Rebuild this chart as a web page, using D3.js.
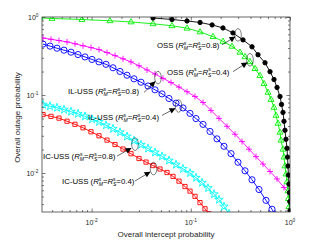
<!DOCTYPE html>
<html>
<head>
<meta charset="utf-8">
<script src="https://cdn.jsdelivr.net/npm/d3@7"></script>
<style>
  body { margin: 0; background: #fff; }
  text { font-family: "Liberation Sans", Arial, Helvetica, sans-serif; }
</style>
</head>
<body>
<script>
// OSS, R = 0.8 (black)
const ossHighX = [0.0416, 0.0646, 0.0916, 0.124, 0.164, 0.211, 0.266, 0.336, 0.414, 0.476, 0.560, 0.629, 0.690, 0.740,
  0.793, 0.821, 0.850, 0.870, 0.890, 0.911, 0.933, 0.944, 0.954, 0.965, 0.977, 0.988, 0.995, 1.0];
const ossHighY = [0.971, 0.929, 0.889, 0.851, 0.791, 0.724, 0.625, 0.509, 0.415, 0.328, 0.259, 0.199, 0.158, 0.125,
  0.0957, 0.0757, 0.0598, 0.0460, 0.0353, 0.0271, 0.0208, 0.0160, 0.0123, 0.0094, 0.0072, 0.0056, 0.0043, 0.0033];

// OSS, R = 0.4 (green)
const ossLowX = [0.00302, 0.00399, 0.0080, 0.0153, 0.0250, 0.0416, 0.0646, 0.0916, 0.124, 0.1675, 0.211, 0.260, 0.313,
  0.352, 0.395, 0.444, 0.498, 0.547, 0.600, 0.644, 0.690, 0.723, 0.757, 0.793, 0.811, 0.850, 0.870, 0.890, 0.911,
  0.933, 0.954, 0.965, 0.977, 0.988];
const ossLowY = [0.977, 0.957, 0.929, 0.895, 0.864, 0.819, 0.772, 0.718, 0.644, 0.560, 0.487, 0.421, 0.353,
  0.309, 0.267, 0.218, 0.177, 0.140, 0.108, 0.0876, 0.0693, 0.0548, 0.0433, 0.0333, 0.0263, 0.0202, 0.0160, 0.0123,
  0.0097, 0.0077, 0.0059, 0.0047, 0.0037, 0.0029];

// IL-USS, R = 0.8 (magenta)
const ilHighX = [0.003237, 0.003896, 0.004692, 0.00565, 0.0068, 0.00819, 0.00986, 0.01187, 0.0143, 0.01722, 0.02073,
  0.02496, 0.03005, 0.03619, 0.04357, 0.05246, 0.06316, 0.07603, 0.09155, 0.1102, 0.1328, 0.1598, 0.1924, 0.2317,
  0.279, 0.3284, 0.3862, 0.4544, 0.5345, 0.629, 0.7397, 0.870, 1.0];
const ilHighY = [0.537, 0.518, 0.499, 0.480, 0.454, 0.428, 0.405, 0.382, 0.350, 0.3195, 0.2909,
  0.2656, 0.2368, 0.2094, 0.1857, 0.1637, 0.1443, 0.1264, 0.1102, 0.0957, 0.0802, 0.0635, 0.0502, 0.0397,
  0.0314, 0.0253, 0.0202, 0.01622, 0.01302, 0.01045, 0.00839, 0.00652, 0.00524];

// IL-USS, R = 0.4 (blue)
const ilLowX = [0.003237, 0.003808, 0.004479, 0.005269, 0.006199, 0.007294, 0.00858, 0.01009, 0.01187, 0.01397,
  0.01643, 0.01933, 0.02275, 0.02676, 0.03148, 0.03703, 0.04357, 0.05126, 0.06028, 0.07093, 0.08345, 0.09815,
  0.1128, 0.1328, 0.1561, 0.1836, 0.2161, 0.2543, 0.2991, 0.3519, 0.4139, 0.487, 0.573, 0.6586, 0.7061];
const ilLowY = [0.449, 0.4233, 0.398, 0.3754, 0.354, 0.330, 0.3076, 0.2858, 0.2656, 0.2474,
  0.2234, 0.2004, 0.1792, 0.1612, 0.1459, 0.1305, 0.1165, 0.1033, 0.0902, 0.0786, 0.0683, 0.0581,
  0.0499, 0.0420, 0.0341, 0.0274, 0.0220, 0.0177, 0.01373, 0.01067, 0.00819, 0.00614, 0.00446, 0.00343, 0.0029];

// IC-USS, R = 0.8 (cyan)
const icHighX = [0.003237, 0.003808, 0.004479, 0.005269, 0.006199, 0.007294, 0.00858, 0.01009, 0.01187, 0.01397,
  0.01643, 0.01933, 0.02275, 0.02676, 0.03148, 0.03703, 0.04357, 0.05126, 0.06028, 0.07093, 0.08345, 0.09815,
  0.1128, 0.1297, 0.1491, 0.1714, 0.1924, 0.2161, 0.2428];
const icHighY = [0.0752, 0.0718, 0.0687, 0.0650, 0.0611, 0.0574, 0.0532, 0.0490, 0.0452, 0.0409,
  0.0369, 0.0333, 0.0294, 0.0260, 0.0230, 0.0206, 0.01835, 0.01637, 0.01447, 0.0128, 0.01131, 0.0100,
  0.00869, 0.0075, 0.0064, 0.00534, 0.00454, 0.00372, 0.0030];

// IC-USS, R = 0.4 (red)
const icLowX = [0.003237, 0.003896, 0.004692, 0.00565, 0.0068, 0.00819, 0.00986, 0.01187, 0.0143, 0.01722, 0.02073,
  0.02496, 0.03005, 0.03536, 0.04159, 0.04892, 0.05755, 0.06618, 0.07603, 0.0874, 0.09815, 0.1102, 0.1238, 0.139, 0.1526];
const icLowY = [0.0561, 0.0532, 0.0505, 0.0461, 0.0421, 0.0380, 0.0338, 0.0300, 0.0264, 0.0232, 0.0203,
  0.01767, 0.01535, 0.0138, 0.01246, 0.01125, 0.01015, 0.00905, 0.00786, 0.00671, 0.00586, 0.00502, 0.00417, 0.00348, 0.0030];

const majorTicks = [0.01, 0.1, 1];
const xLabel = "Overall intercept probability";
const yLabel = "Overall outage probability";

// annotation anchors, in data units
const notes = [
  {scheme: "OSS",    r: "0.8", tx: 0.0456, ty: 0.403,  ex: 0.299,  ey: 0.590, ax: [0.2063, 0.279],   ay: [0.44, 0.556]},
  {scheme: "OSS",    r: "0.4", tx: 0.0576, ty: 0.1825, ex: 0.395,  ey: 0.283, ax: [0.2664, 0.3685],  ay: [0.1992, 0.2594]},
  {scheme: "IL-USS", r: "0.8", tx: 0.00578, ty: 0.1015, ex: 0.0467, ey: 0.167, ax: [0.03375, 0.04357], ay: [0.108, 0.1486]},
  {scheme: "IL-USS", r: "0.4", tx: 0.0092, ty: 0.0473, ex: 0.0752, ey: 0.0724, ax: [0.05126, 0.06929], ay: [0.0548, 0.0673]},
  {scheme: "IC-USS", r: "0.8", tx: 0.00324, ty: 0.01508, ex: 0.0274, ey: 0.0234, ax: [0.01803, 0.02496], ay: [0.01646, 0.0208]},
  {scheme: "IC-USS", r: "0.4", tx: 0.00503, ty: 0.00724, ex: 0.0421, ey: 0.0114, ax: [0.0274, 0.0388],  ay: [0.0079, 0.0103]}
];

const width = 321, height = 241;
const margin = {top: 17, right: 31, bottom: 29, left: 42};

const x = d3.scaleLog()
    .domain([Math.pow(10, -2.5), 1])
    .range([margin.left, width - margin.right]);
const y = d3.scaleLog()
    .domain([Math.pow(10, -2.5), 1])
    .range([height - margin.bottom, margin.top]);

const series = [
  {xs: icLowX,   ys: icLowY,   color: "#ff0000", marker: "square"},
  {xs: icHighX,  ys: icHighY,  color: "#00ffff", marker: "star"},
  {xs: ilLowX,   ys: ilLowY,   color: "#0000ff", marker: "circle"},
  {xs: ilHighX,  ys: ilHighY,  color: "#ff00ff", marker: "plus"},
  {xs: ossLowX,  ys: ossLowY,  color: "#00f000", marker: "triangle"},
  {xs: ossHighX, ys: ossHighY, color: "#000000", marker: "dot"}
];

const minorTicks = [];
for (let e = -3; e <= -1; e++)
  for (let k = 2; k <= 9; k++) {
    const v = k * Math.pow(10, e);
    if (v >= x.domain()[0] && v <= 1) minorTicks.push(v);
  }

const svg = d3.select("body").append("svg")
    .attr("width", width)
    .attr("height", height)
    .attr("viewBox", [0, 0, width, height]);

svg.append("defs").append("clipPath")
    .attr("id", "plot-clip")
  .append("rect")
    .attr("x", margin.left)
    .attr("y", margin.top)
    .attr("width", width - margin.left - margin.right)
    .attr("height", height - margin.top - margin.bottom);

svg.select("defs").append("marker")
    .attr("id", "arrowhead")
    .attr("viewBox", "0 0 10 10")
    .attr("refX", 9)
    .attr("refY", 5)
    .attr("markerWidth", 7)
    .attr("markerHeight", 6)
    .attr("markerUnits", "userSpaceOnUse")
    .attr("orient", "auto")
  .append("path")
    .attr("d", "M0,0L10,5L0,10Z")
    .attr("fill", "#000");

const axisColor = "#262626";

// ticks pointing inwards on all four sides
function tickAxis(axis, scale, transform, values, size) {
  svg.append("g")
      .attr("transform", transform)
      .call(axis(scale).tickValues(values).tickSize(size).tickFormat(""))
      .call(g => g.select(".domain").remove())
      .call(g => g.selectAll(".tick line").attr("stroke", axisColor).attr("stroke-width", 0.6));
}
const bottomY = height - margin.bottom, rightX = width - margin.right;
tickAxis(d3.axisBottom, x, `translate(0,${bottomY})`, majorTicks, -3.5);
tickAxis(d3.axisBottom, x, `translate(0,${bottomY})`, minorTicks, -2);
tickAxis(d3.axisTop, x, `translate(0,${margin.top})`, majorTicks, -3.5);
tickAxis(d3.axisTop, x, `translate(0,${margin.top})`, minorTicks, -2);
tickAxis(d3.axisLeft, y, `translate(${margin.left},0)`, majorTicks, -3.5);
tickAxis(d3.axisLeft, y, `translate(${margin.left},0)`, minorTicks, -2);
tickAxis(d3.axisRight, y, `translate(${rightX},0)`, majorTicks, -3.5);
tickAxis(d3.axisRight, y, `translate(${rightX},0)`, minorTicks, -2);

// tick labels as 10^n
function powerLabel(sel) {
  sel.append("tspan").text("10");
  sel.append("tspan")
      .attr("font-size", 4.8)
      .attr("dy", -3.4)
      .text(d => Math.round(Math.log10(d)));
}
svg.append("g")
    .attr("font-size", 7)
    .attr("fill", axisColor)
  .selectAll("text")
  .data(majorTicks)
  .join("text")
    .attr("x", d => x(d))
    .attr("y", bottomY + 13)
    .attr("text-anchor", "middle")
    .call(powerLabel);
svg.append("g")
    .attr("font-size", 7)
    .attr("fill", axisColor)
  .selectAll("text")
  .data(majorTicks)
  .join("text")
    .attr("x", margin.left - 3.5)
    .attr("y", d => y(d) + 3)
    .attr("text-anchor", "end")
    .call(powerLabel);

svg.append("text")
    .attr("x", (margin.left + rightX) / 2)
    .attr("y", height - 4)
    .attr("text-anchor", "middle")
    .attr("font-size", 8)
    .attr("fill", axisColor)
    .text(xLabel);
svg.append("text")
    .attr("transform", `translate(20,${(margin.top + bottomY) / 2 + 3}) rotate(-90)`)
    .attr("text-anchor", "middle")
    .attr("font-size", 8)
    .attr("fill", axisColor)
    .text(yLabel);

// curves
const line = d3.line().x(d => x(d[0])).y(d => y(d[1]));
const plot = svg.append("g").attr("clip-path", "url(#plot-clip)");

const markerPath = {
  square: "M-2.1,-2.1H2.1V2.1H-2.1Z",
  triangle: "M0,-3.3L3,1.9L-3,1.9Z",
  plus: "M-3,0H3M0,-3V3",
  star: d3.symbol(d3.symbolStar, 22)(),
  circle: d3.symbol(d3.symbolCircle, 30)(),
  dot: d3.symbol(d3.symbolCircle, 15)()
};

for (const s of series) {
  const pts = d3.zip(s.xs, s.ys);
  plot.append("path")
      .attr("fill", "none")
      .attr("stroke", s.color)
      .attr("stroke-width", 0.9)
      .attr("d", line(pts));
  plot.append("g")
    .selectAll("path")
    .data(pts)
    .join("path")
      .attr("transform", d => `translate(${x(d[0])},${y(d[1])})`)
      .attr("d", markerPath[s.marker])
      .attr("fill", s.marker === "dot" ? s.color : "none")
      .attr("stroke", s.color)
      .attr("stroke-width", 0.9);
}

// frame
svg.append("rect")
    .attr("x", margin.left)
    .attr("y", margin.top)
    .attr("width", rightX - margin.left)
    .attr("height", bottomY - margin.top)
    .attr("fill", "none")
    .attr("stroke", axisColor)
    .attr("stroke-width", 0.7);

// annotations
const ann = svg.append("g");
ann.selectAll("ellipse")
  .data(notes)
  .join("ellipse")
    .attr("cx", d => x(d.ex))
    .attr("cy", d => y(d.ey))
    .attr("rx", 3.3)
    .attr("ry", 6.3)
    .attr("fill", "none")
    .attr("stroke", "#000")
    .attr("stroke-width", 0.5);
ann.selectAll("line")
  .data(notes)
  .join("line")
    .attr("x1", d => x(d.ax[0]))
    .attr("y1", d => y(d.ay[0]))
    .attr("x2", d => x(d.ax[1]))
    .attr("y2", d => y(d.ay[1]))
    .attr("stroke", "#000")
    .attr("stroke-width", 0.6)
    .attr("marker-end", "url(#arrowhead)");

ann.selectAll("text")
  .data(notes)
  .join("text")
    .attr("x", d => x(d.tx))
    .attr("y", d => y(d.ty))
    .attr("font-size", 7.8)
    .attr("fill", "#000")
    .each(function(d) {
      const t = d3.select(this);
      t.append("tspan").text(d.scheme + " (");
      t.append("tspan").attr("font-style", "italic").text("R");
      t.append("tspan").attr("font-size", 5).attr("dy", -3.2).text("s");
      t.append("tspan").attr("font-size", 5).attr("font-style", "italic").attr("dx", -2.6).attr("dy", 5.2).text("M");
      t.append("tspan").attr("dy", -2).text("=");
      t.append("tspan").attr("font-style", "italic").text("R");
      t.append("tspan").attr("font-size", 5).attr("dy", -3.2).text("s");
      t.append("tspan").attr("font-size", 5).attr("font-style", "italic").attr("dx", -2.6).attr("dy", 5.2).text("S");
      t.append("tspan").attr("dy", -2).text("=" + d.r + ")");
    });
</script>
</body>
</html>
